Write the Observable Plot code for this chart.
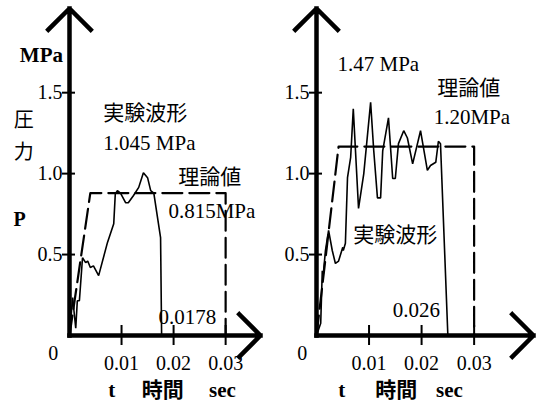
<!DOCTYPE html>
<html><head><meta charset="utf-8">
<script src="https://cdn.jsdelivr.net/npm/d3@7"></script>
<script src="https://cdn.jsdelivr.net/npm/@observablehq/plot@0.6"></script>
<style>
body{margin:0;background:#fff}
#row{display:flex;width:540px;height:406px;background:#fff}
#row svg text{font-family:'Liberation Serif','Noto Sans CJK JP',serif}
</style>
</head><body><div id="row"></div>
<script>
// Shared tick values
const yTicks = [0.5, 1.0, 1.5];
const xTicks = [0.01, 0.02, 0.03];

// Left panel: experimental waveform (time s, pressure MPa)
const leftExpT = [0, 0.0006, 0.0012, 0.0015, 0.0019, 0.0025, 0.0031, 0.0035, 0.0040, 0.0046, 0.0056, 0.0073, 0.0085, 0.0088, 0.0092, 0.0098, 0.0108, 0.0113, 0.0123, 0.0133, 0.0142, 0.0150, 0.0156, 0.0162, 0.0175, 0.0177];
const leftExpP = [0, 0.235, 0.045, 0.215, 0.215, 0.48, 0.45, 0.46, 0.42, 0.43, 0.37, 0.575, 0.69, 0.875, 0.895, 0.88, 0.82, 0.82, 0.865, 0.915, 1.005, 0.975, 0.895, 0.88, 0.605, 0];
// Left panel: theoretical waveform
const leftTheoT = [0, 0.004, 0.030, 0.030];
const leftTheoP = [0, 0.88, 0.88, 0];

// Right panel: experimental waveform
const rightExpT = [0, 0.0008, 0.0011, 0.0013, 0.0017, 0.0023, 0.0030, 0.0036, 0.0042, 0.0050, 0.0051, 0.0055, 0.0059, 0.0065, 0.0070, 0.0080, 0.0090, 0.0103, 0.0109, 0.0116, 0.0122, 0.0126, 0.0137, 0.0145, 0.0150, 0.0156, 0.0166, 0.0173, 0.0183, 0.0198, 0.0211, 0.0217, 0.0227, 0.0232, 0.0236, 0.0250];
const rightExpP = [0, 0.075, 0.40, 0.38, 0.525, 0.65, 0.525, 0.445, 0.46, 0.545, 0.525, 0.57, 0.975, 1.10, 1.40, 0.785, 1.0, 1.44, 1.14, 0.85, 0.85, 1.14, 1.345, 0.97, 0.97, 1.185, 1.265, 1.22, 1.06, 1.265, 1.02, 1.05, 1.07, 1.20, 1.185, 0];
// Right panel: theoretical waveform
const rightTheoT = [0, 0.0042, 0.030, 0.030];
const rightTheoP = [0, 1.167, 1.167, 0];

const Y_MAX = 2.02;
const FONT = "Liberation Serif, Noto Sans CJK JP, serif";

const rows = (ts, ps) => ts.map((t, i) => ({t, p: ps[i]}));

function label(text, x, y, opts = {}) {
  return Plot.text([text], {x, y, text: d => d, fill: "black", fontSize: 21, fontFamily: FONT, textAnchor: "start", ...opts});
}

function panel({expT, expP, theoT, theoP, xMax, marginLeft, marginRight, labels}) {
  return Plot.plot({
    width: 270, height: 406,
    marginLeft, marginRight, marginTop: 8, marginBottom: 71,
    x: {domain: [0, xMax]},
    y: {domain: [0, Y_MAX]},
    style: {fontFamily: FONT, fontSize: "20px", background: "white", color: "black", overflow: "visible"},
    marks: [
      // theoretical (dashed)
      Plot.line(rows(theoT, theoP), {x: "t", y: "p", stroke: "black", strokeWidth: 2.2, strokeDasharray: "20,7"}),
      // experimental
      Plot.line(rows(expT, expP), {x: "t", y: "p", stroke: "black", strokeWidth: 1.6, strokeLinejoin: "miter"}),
      // tick marks crossing the axes
      Plot.axisY({ticks: yTicks, tickSize: 13, dx: 6, tickFormat: () => "", label: null, strokeWidth: 2}),
      Plot.axisX({ticks: xTicks, tickSize: 20, dy: -10, tickFormat: () => "", label: null, strokeWidth: 2}),
      // tick labels
      Plot.axisY({ticks: yTicks, tickSize: 0, tickPadding: 7, tickFormat: d3.format(".1f"), label: null, fontSize: 20, fontFamily: FONT}),
      Plot.axisX({ticks: xTicks, tickSize: 0, tickPadding: 20, tickFormat: d3.format(".2f"), label: null, fontSize: 20, fontFamily: FONT}),
      // axis arrows
      Plot.arrow([0], {x1: 0, y1: 0, x2: 0, y2: Y_MAX, stroke: "black", strokeWidth: 4.5, headLength: 10, headAngle: 90, strokeLinecap: "square"}),
      Plot.arrow([0], {x1: 0, y1: 0, x2: xMax, y2: 0, stroke: "black", strokeWidth: 4.5, headLength: 10, headAngle: 90, strokeLinecap: "square"}),
      ...labels
    ]
  });
}

const left = panel({
  expT: leftExpT, expP: leftExpP, theoT: leftTheoT, theoP: leftTheoP,
  xMax: 0.0367, marginLeft: 69, marginRight: 10,
  labels: [
    label("MPa", -0.0054, 1.73, {textAnchor: "middle", fontWeight: "bold", fontSize: 21}),
    label("圧", -0.0088, 1.327, {textAnchor: "middle", fontSize: 20}),
    label("力", -0.0088, 1.13, {textAnchor: "middle", fontSize: 20}),
    label("P", -0.0096, 0.716, {textAnchor: "middle", fontWeight: "bold", fontSize: 20}),
    label("0", -0.0031, -0.111, {textAnchor: "middle", fontSize: 20}),
    label("t", 0.0081, -0.34, {textAnchor: "middle", fontWeight: "bold", fontSize: 21}),
    label("時間", 0.0179, -0.34, {textAnchor: "middle", fontWeight: "bold", fontSize: 21}),
    label("sec", 0.0294, -0.34, {textAnchor: "middle", fontWeight: "bold", fontSize: 21}),
    label("実験波形", 0.0065, 1.37),
    label("1.045 MPa", 0.0065, 1.185),
    label("理論値", 0.0209, 0.975),
    label("0.815MPa", 0.019, 0.765),
    label("0.0178", 0.0171, 0.111)
  ]
});

const right = panel({
  expT: rightExpT, expP: rightExpP, theoT: rightTheoT, theoP: rightTheoP,
  xMax: 0.0413, marginLeft: 46, marginRight: 7,
  labels: [
    label("0", -0.0027, -0.111, {textAnchor: "middle", fontSize: 20}),
    label("t", 0.0048, -0.34, {textAnchor: "middle", fontWeight: "bold", fontSize: 21}),
    label("時間", 0.0152, -0.34, {textAnchor: "middle", fontWeight: "bold", fontSize: 21}),
    label("sec", 0.0253, -0.34, {textAnchor: "middle", fontWeight: "bold", fontSize: 21}),
    label("1.47 MPa", 0.004, 1.673),
    label("理論値", 0.023, 1.525),
    label("1.20MPa", 0.0223, 1.346),
    label("実験波形", 0.007, 0.617),
    label("0.026", 0.0145, 0.154)
  ]
});

const row = document.getElementById("row");
row.appendChild(left);
row.appendChild(right);
</script>
</body></html>
